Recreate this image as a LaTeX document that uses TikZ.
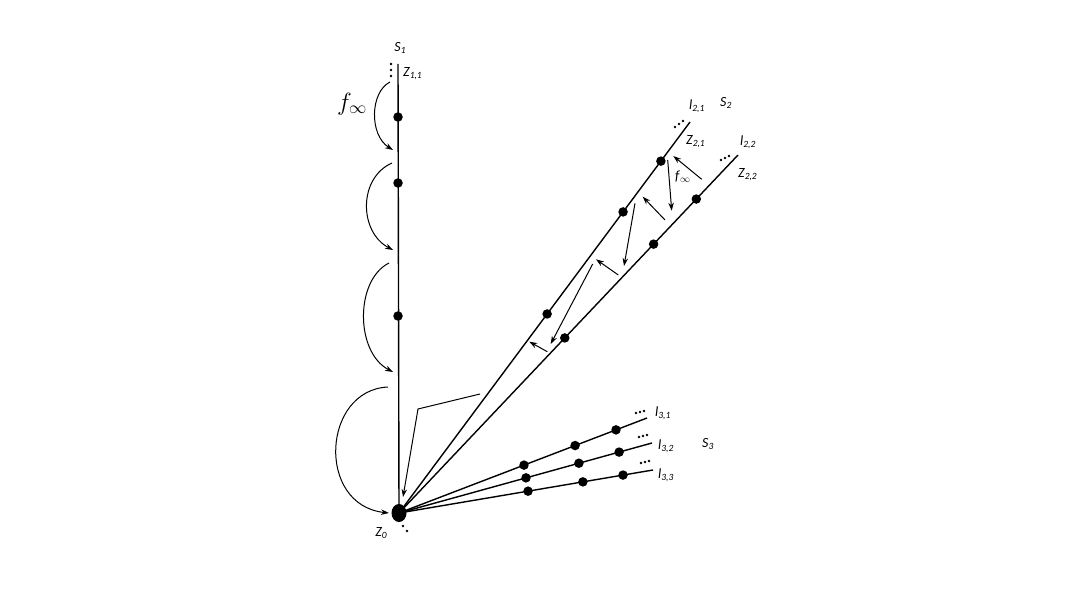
\documentclass[tikz,border=0pt]{standalone}
\usepackage{fontspec}
\setmainfont{Carlito}
\usetikzlibrary{arrows.meta,shapes.geometric,calc}
\newcommand\sublab[2]{\textit{#1\raisebox{-0.3ex}{\fontsize{9.5}{9.5}\selectfont #2}}}
\begin{document}
\begin{tikzpicture}[x=1pt,y=-1pt,
  dotn/.style={circle,fill,inner sep=0pt,minimum size=9.5pt},
  edot/.style={circle,fill,inner sep=0pt,minimum size=2.6pt},
  lbl/.style={font=\fontsize{14}{14}\selectfont,inner sep=0pt,anchor=west},
  ray/.style={line width=1.4pt},
  arr/.style={line width=1pt,-{Stealth[length=8pt,width=5.5pt]}}
]
\useasboundingbox (0,0) rectangle (1090,599);
\fill[white] (0,0) rectangle (1090,599);

% centre
\node[fill,ellipse,minimum width=15pt,minimum height=18pt,inner sep=0pt] (z0) at (399,513) {};

% line ends
\coordinate (s1e) at (398,64);
\coordinate (l21e) at (690,122);
\coordinate (l22e) at (738,155);
\coordinate (l31e) at (647,418);
\coordinate (l32e) at (652,443);
\coordinate (l33e) at (653,470);

% rays
\draw[ray] (z0.center) -- (s1e);
\draw[ray] (z0.center) -- (l21e);
\draw[ray] (z0.center) -- (l22e);
\draw[ray] (z0.center) -- (l31e);
\draw[ray] (z0.center) -- (l32e);
\draw[ray] (z0.center) -- (l33e);

% dots on S1
\node[dotn] (d11) at (398,117) {};
\node[dotn] (d12) at (398,183) {};
\node[dotn] (d13) at (398,316) {};
% dots on S2
\node[dotn] (d21a) at ($(z0.center)!0.900!(l21e)$) {};
\node[dotn] (d21b) at ($(z0.center)!0.770!(l21e)$) {};
\node[dotn] (d21c) at ($(z0.center)!0.509!(l21e)$) {};
\node[dotn] (d22a) at ($(z0.center)!0.877!(l22e)$) {};
\node[dotn] (d22b) at ($(z0.center)!0.751!(l22e)$) {};
\node[dotn] (d22c) at ($(z0.center)!0.489!(l22e)$) {};
% dots on S3
\node[dotn] (d31a) at ($(z0.center)!0.504!(l31e)$) {};
\node[dotn] (d31b) at ($(z0.center)!0.710!(l31e)$) {};
\node[dotn] (d31c) at ($(z0.center)!0.875!(l31e)$) {};
\node[dotn] (d32a) at ($(z0.center)!0.502!(l32e)$) {};
\node[dotn] (d32b) at ($(z0.center)!0.711!(l32e)$) {};
\node[dotn] (d32c) at ($(z0.center)!0.870!(l32e)$) {};
\node[dotn] (d33a) at ($(z0.center)!0.508!(l33e)$) {};
\node[dotn] (d33b) at ($(z0.center)!0.724!(l33e)$) {};
\node[dotn] (d33c) at ($(z0.center)!0.882!(l33e)$) {};

% ellipsis dots
\node[edot] (e1a) at (391,64) {};
\node[edot] (e1b) at (391,70) {};
\node[edot] (e1c) at (391,76) {};
\node[edot] (e2a) at (675,127) {};
\node[edot] (e2b) at (679,124) {};
\node[edot] (e2c) at (683,121) {};
\node[edot] (e3a) at (721,160) {};
\node[edot] (e3b) at (725,158) {};
\node[edot] (e3c) at (729,156) {};
\node[edot] (e4a) at (636,413) {};
\node[edot] (e4b) at (640,412) {};
\node[edot] (e4c) at (644,411) {};
\node[edot] (e5a) at (639,437) {};
\node[edot] (e5b) at (643,436) {};
\node[edot] (e5c) at (647,435) {};
\node[edot] (e6a) at (641,463) {};
\node[edot] (e6b) at (645,462) {};
\node[edot] (e6c) at (649,461) {};
\node[edot] (e7a) at (403,526) {};
\node[edot] (e7b) at (407,531) {};

% labels
\node[lbl,anchor=center] (ls1) at (400,48) {\sublab{S}{1}};
\node[lbl] (lz11) at (403,74) {\sublab{Z}{1,1}};
\node[inner sep=0pt,font=\fontsize{24}{24}\selectfont] (fbig) at (352,104) {$f_{\infty}$};
\node[lbl] (ll21) at (689,106) {\sublab{l}{2,1}};
\node[lbl] (ls2) at (720,103) {\sublab{S}{2}};
\node[lbl] (lz21) at (686,142) {\sublab{Z}{2,1}};
\node[lbl] (ll22) at (740,142) {\sublab{l}{2,2}};
\node[lbl] (lz22) at (738,175) {\sublab{Z}{2,2}};
\node[lbl] (lf) at (675,177) {\textit{f}\raisebox{-0.3ex}{\fontsize{10}{10}\selectfont $\infty$}};
\node[lbl] (ll31) at (655,413) {\sublab{l}{3,1}};
\node[lbl] (ll32) at (658,446) {\sublab{l}{3,2}};
\node[lbl] (ll33) at (658,475) {\sublab{l}{3,3}};
\node[lbl] (ls3) at (702,444) {\sublab{S}{3}};
\node[lbl,anchor=center] (lz0) at (381,533) {\sublab{Z}{0}};

% curved arrows along S1
\coordinate (c1s) at (390,82);  \coordinate (c1e) at (393,150);
\coordinate (c2s) at (392,163); \coordinate (c2e) at (393,250);
\coordinate (c3s) at (389,263); \coordinate (c3e) at (393,372);
\coordinate (c4s) at (388,387); \coordinate (c4e) at (389,513);
\draw[arr] (c1s) .. controls (370,92) and (369,135) .. (c1e);
\draw[arr] (c2s) .. controls (358,178) and (359,232) .. (c2e);
\draw[arr] (c3s) .. controls (355,280) and (355,352) .. (c3e);
\draw[arr] (c4s) .. controls (322,390) and (316,505) .. (c4e);

% bent arrow
\coordinate (b1) at (480,394);
\coordinate (b2) at (418,409);
\coordinate (b3) at (403,497);
\draw[arr] (b1) -- (b2) -- (b3);

% zigzag arrows between l21 and l22
\coordinate (a1s) at (701.7,179.3); \coordinate (a1e) at (673.3,156);
\coordinate (a2s) at (667.7,160);   \coordinate (a2e) at (671.7,210.7);
\coordinate (a3s) at (665,220);     \coordinate (a3e) at (642.7,196.7);
\coordinate (a4s) at (635,203.3);   \coordinate (a4e) at (624,266);
\coordinate (a5s) at (618.3,275);   \coordinate (a5e) at (596,259.3);
\coordinate (a6s) at (592.7,264);   \coordinate (a6e) at (550.7,344);
\coordinate (a7s) at (547.3,351.7); \coordinate (a7e) at (529.3,341.7);
\draw[arr] (a1s) -- (a1e);
\draw[arr] (a2s) -- (a2e);
\draw[arr] (a3s) -- (a3e);
\draw[arr] (a4s) -- (a4e);
\draw[arr] (a5s) -- (a5e);
\draw[arr] (a6s) -- (a6e);
\draw[arr] (a7s) -- (a7e);
\end{tikzpicture}
\end{document}
